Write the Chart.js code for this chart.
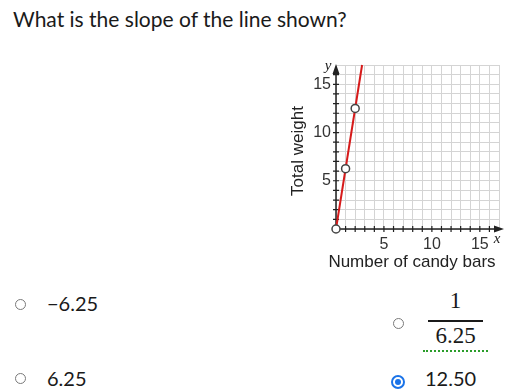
<!DOCTYPE html>
<html>
<head>
<meta charset="utf-8">
<script src="https://cdn.jsdelivr.net/npm/chart.js@4.4.1/dist/chart.umd.min.js"></script>
<style>
  html, body { margin: 0; padding: 0; background: #fff; }
  body { width: 529px; height: 390px; position: relative; overflow: hidden; font-family: Lato, sans-serif; color: #1a1a1a; }
  .question { position: absolute; left: 13px; top: 6px; font-size: 21px; }
  .chart-box { position: absolute; left: 280px; top: 50px; width: 235px; height: 225px; }
  .opt { position: absolute; font-size: 20px; line-height: 24px; }
  .radio { position: absolute; width: 11px; height: 11px; border: 1px solid #7a7a7a; border-radius: 50%; box-sizing: border-box; }
  .radio.on { border: 2px solid #1a73e8; width: 14px; height: 14px; }
  .radio.on::after { content: ''; position: absolute; left: 2px; top: 2px; width: 6px; height: 6px; border-radius: 50%; background: #1a73e8; }
  .frac { position: absolute; left: 423px; top: 286px; width: 65px; text-align: center; font-family: 'Liberation Serif', serif; font-size: 23px; }
  .frac .num { height: 30px; line-height: 30px; }
  .frac .bar { margin: 4px 5px 0 5px; border-top: 2px solid #1a1a1a; }
  .frac .den { height: 28px; line-height: 28px; border-bottom: 2px dotted #2a9d2a; }
</style>
</head>
<body>
<div class="question">What is the slope of the line shown?</div>
<div class="chart-box"><canvas id="chart"></canvas></div>

<div class="radio" style="left:15px; top:299px;"></div>
<div class="opt" style="left:47px; top:291px;">&minus;6.25</div>
<div class="radio" style="left:15px; top:373px;"></div>
<div class="opt" style="left:47px; top:366px;">6.25</div>

<div class="radio" style="left:393px; top:318px;"></div>
<div class="frac"><div class="num">1</div><div class="bar"></div><div class="den">6.25</div></div>
<div class="radio on" style="left:391px; top:375px;"></div>
<div class="opt" style="left:425px; top:366px;">12.50</div>

<script>
// ── Data ──────────────────────────────────────────────────────────
const lineX = [0, 2.72];
const lineY = [0, 17];
const pointX = [0, 1, 2];
const pointY = [0, 6.25, 12.5];
const axisMax = 17;
const tickLabels = [5, 10, 15];

const FONT = "'Liberation Sans', Arial, sans-serif";

// ── Axes with crossing ticks, arrows and titles ───────────────────
const axesPlugin = {
  id: 'axes',
  beforeDatasetsDraw(chart) {
    const { ctx, chartArea: a, scales: { x, y } } = chart;
    const ox = x.getPixelForValue(0);
    const oy = y.getPixelForValue(0);
    ctx.save();
    ctx.strokeStyle = '#222';
    ctx.fillStyle = '#222';
    ctx.lineWidth = 1.5;
    // axis lines
    ctx.beginPath();
    ctx.moveTo(ox, oy);
    ctx.lineTo(a.right + 1, oy);
    ctx.moveTo(ox, oy);
    ctx.lineTo(ox, a.top + 4);
    ctx.stroke();
    // tick marks
    ctx.lineWidth = 1.2;
    ctx.beginPath();
    for (let i = 1; i < axisMax; i++) {
      const px = x.getPixelForValue(i);
      ctx.moveTo(px, oy - 3); ctx.lineTo(px, oy + 3);
      const py = y.getPixelForValue(i);
      ctx.moveTo(ox - 3, py); ctx.lineTo(ox + 3, py);
    }
    ctx.stroke();
    // arrowheads
    ctx.beginPath();
    ctx.moveTo(a.right + 5, oy);
    ctx.lineTo(a.right - 5, oy - 3.5);
    ctx.lineTo(a.right - 5, oy + 3.5);
    ctx.closePath();
    ctx.moveTo(ox, a.top - 1);
    ctx.lineTo(ox - 3.5, a.top + 9);
    ctx.lineTo(ox + 3.5, a.top + 9);
    ctx.closePath();
    ctx.fill();
    ctx.restore();
  },
  afterDraw(chart) {
    const { ctx, chartArea: a } = chart;
    ctx.save();
    ctx.fillStyle = '#222';
    ctx.textAlign = 'center';
    ctx.textBaseline = 'middle';
    ctx.font = `17px ${FONT}`;
    ctx.fillText('Number of candy bars', a.left + 76, a.bottom + 33);
    ctx.translate(18, a.top + 86);
    ctx.rotate(-Math.PI / 2);
    ctx.fillText('Total weight', 0, 0);
    ctx.restore();
    ctx.save();
    ctx.fillStyle = '#222';
    ctx.font = `italic 15px 'Liberation Serif', serif`;
    ctx.textAlign = 'center';
    ctx.textBaseline = 'middle';
    ctx.fillText('y', a.left - 8, a.top + 1);
    ctx.fillText('x', a.right - 2, a.bottom + 10);
    ctx.restore();
  },
};

// ── Chart ─────────────────────────────────────────────────────────
const ctx = document.getElementById('chart').getContext('2d');

new Chart(ctx, {
  type: 'scatter',
  data: {
    datasets: [
      {
        data: lineX.map((v, i) => ({ x: v, y: lineY[i] })),
        showLine: true,
        borderColor: '#d61a1a',
        borderWidth: 2,
        pointRadius: 0,
        clip: false,
        order: 2,
      },
      {
        data: pointX.map((v, i) => ({ x: v, y: pointY[i] })),
        showLine: false,
        pointRadius: 4,
        pointBorderWidth: 1.5,
        pointBackgroundColor: '#fff',
        pointBorderColor: '#444',
        clip: false,
        order: 1,
      },
    ],
  },
  options: {
    responsive: true,
    maintainAspectRatio: false,
    animation: false,
    layout: { padding: { top: 15, right: 16, left: 0, bottom: 0 } },
    plugins: { legend: { display: false }, tooltip: { enabled: false } },
    scales: {
      x: {
        type: 'linear',
        min: 0,
        max: axisMax,
        afterFit: (s) => { s.height = 46; },
        border: { display: false },
        grid: { color: '#d4d4d4', lineWidth: 1, drawTicks: false },
        ticks: {
          stepSize: 1,
          autoSkip: false,
          maxRotation: 0,
          padding: 6,
          color: '#333',
          font: { family: FONT, size: 16 },
          callback: (v) => tickLabels.includes(v) ? String(v) : '',
        },
      },
      y: {
        type: 'linear',
        min: 0,
        max: axisMax,
        afterFit: (s) => { s.width = 56; },
        border: { display: false },
        grid: { color: '#d4d4d4', lineWidth: 1, drawTicks: false },
        ticks: {
          stepSize: 1,
          autoSkip: false,
          padding: 5,
          color: '#333',
          font: { family: FONT, size: 16 },
          callback: (v) => tickLabels.includes(v) ? String(v) : '',
        },
      },
    },
  },
  plugins: [axesPlugin],
});
</script>
</body>
</html>
